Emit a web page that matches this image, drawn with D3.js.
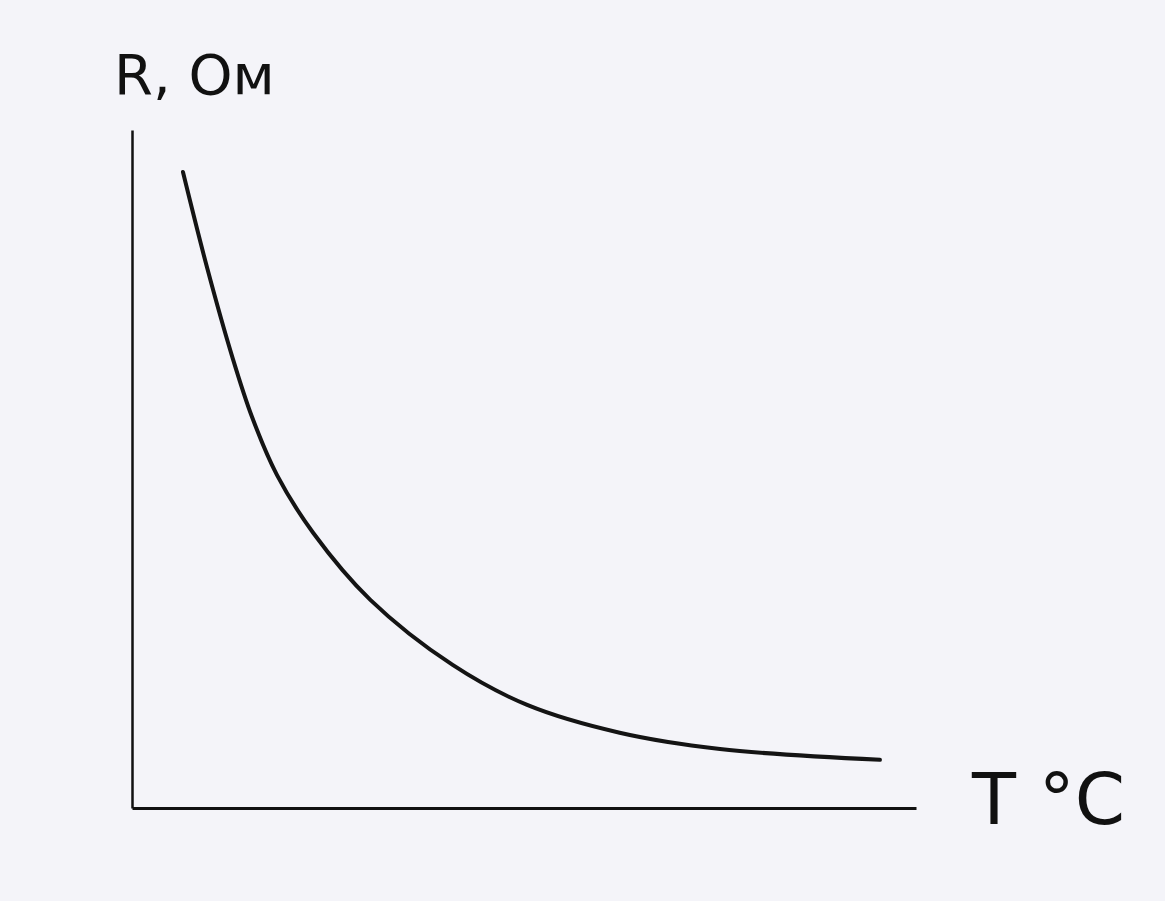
<!DOCTYPE html>
<html><head><meta charset="utf-8">
<script src="https://cdn.jsdelivr.net/npm/d3@7"></script>
<style>html,body{margin:0;padding:0;background:#f4f4f9;}svg{display:block;}</style>
</head><body>
<svg id="chart" width="1165" height="901"></svg>
<script>
// Temperature (arbitrary units, 0..100) and resistance (arbitrary units, 0..100)
const temperature = [6.5, 9.6, 12.8, 15.3, 18.5, 23.1, 30.4, 40.9, 50.4, 62.2, 75.0, 95.4];
const resistance  = [93.8, 79.6, 66.5, 57.7, 49.1, 40.6, 30.7, 21.1, 15.2, 11.1, 8.7, 7.1];
const yLabel = "R, Ом";
const xLabel = "T °C";

const svg = d3.select("#chart");
svg.append("rect").attr("width",1165).attr("height",901).attr("fill","#f4f4f9");

const x = d3.scaleLinear().domain([0,100]).range([132,916]);
const y = d3.scaleLinear().domain([0,100]).range([808,130]);

// axes (plain lines, no ticks)
const xAxis = d3.axisBottom(x).tickValues([]).tickSizeOuter(0);
const yAxis = d3.axisLeft(y).tickValues([]).tickSizeOuter(0);
svg.append("g").attr("transform",`translate(0,${y(0)})`).call(xAxis)
  .select(".domain").attr("stroke","#111").attr("stroke-width",3);
svg.append("g").attr("transform",`translate(${x(0)},0)`).call(yAxis)
  .select(".domain").attr("stroke","#111").attr("stroke-width",2.5);

const data = temperature.map((t,i)=>({t, r: resistance[i]}));
const line = d3.line().x(d=>x(d.t)).y(d=>y(d.r)).curve(d3.curveCatmullRom.alpha(0.5));
svg.append("path").datum(data).attr("d",line)
  .attr("fill","none").attr("stroke","#141414").attr("stroke-width",4)
  .attr("stroke-linecap","round");

svg.append("text").attr("x",114).attr("y",94).text(yLabel)
  .attr("font-family","DejaVu Sans").attr("font-size",56).attr("fill","#111");
svg.append("text").attr("x",972).attr("y",824).text(xLabel)
  .attr("font-family","DejaVu Sans").attr("font-size",72).attr("fill","#111");
</script>
</body></html>
